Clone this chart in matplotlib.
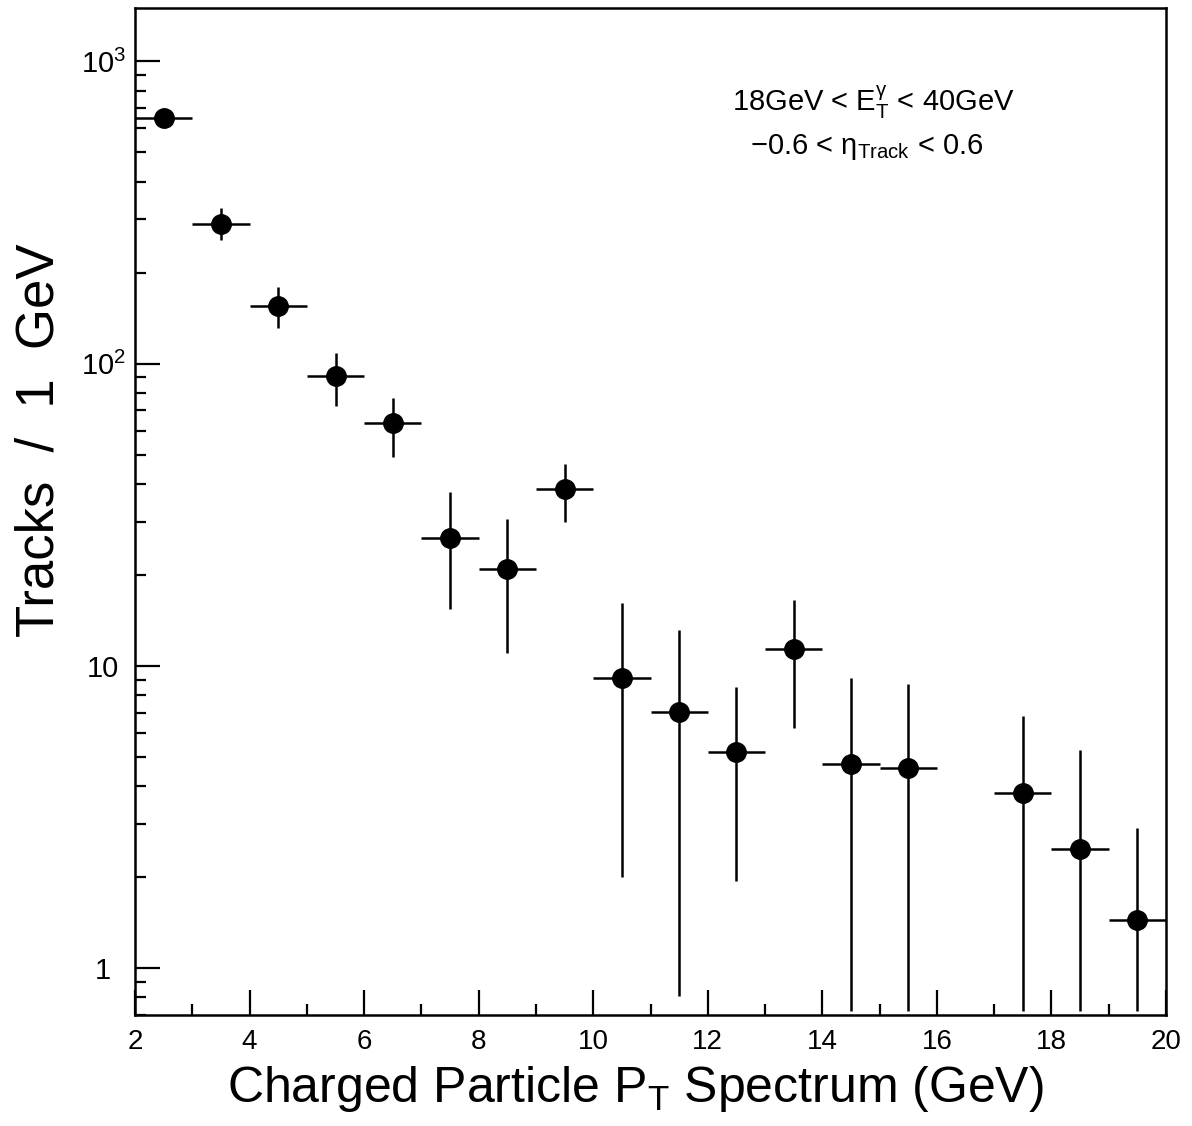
import matplotlib
matplotlib.use('Agg')
import matplotlib.pyplot as plt
from matplotlib.ticker import FixedLocator, FixedFormatter, LogLocator, NullFormatter, MultipleLocator

plt.rcParams['font.family'] = ['Liberation Sans', 'DejaVu Sans']
plt.rcParams['mathtext.fontset'] = 'custom'
plt.rcParams['mathtext.rm'] = 'Liberation Sans'
plt.rcParams['mathtext.it'] = 'Liberation Sans:italic'
plt.rcParams['mathtext.default'] = 'regular'

# pT bin centres (GeV) and track counts per GeV
pt = [2.5, 3.5, 4.5, 5.5, 6.5, 7.5, 8.5, 9.5, 10.5, 11.5,
      12.5, 13.5, 14.5, 15.5, 17.5, 18.5, 19.5]
tracks = [649, 290, 155, 91, 63.7, 26.4, 20.9, 38.6, 9.1, 7.05,
          5.2, 11.4, 4.75, 4.6, 3.8, 2.48, 1.44]
err_up = [660, 328, 179, 108, 76.9, 37.7, 30.5, 46.7, 16.2, 13.1,
          8.5, 16.5, 9.15, 8.7, 6.85, 5.25, 2.9]
err_lo = [638, 257, 131, 72.4, 49.2, 15.4, 11.0, 30.0, 2.0, 0.81,
          1.94, 6.25, 0.72, 0.72, 0.72, 0.72, 0.72]
bin_half = 0.5

yticks = [1, 10, 100, 1000]
ytick_labels = ['1', '10', r'$10^{2}$', r'$10^{3}$']

yerr = [[t - lo for t, lo in zip(tracks, err_lo)],
        [up - t for t, up in zip(tracks, err_up)]]

fig = plt.figure(figsize=(11.92, 11.26), dpi=100)
ax = fig.add_axes([0.1133, 0.0986, 0.8649, 0.8943])

ax.errorbar(pt, tracks, xerr=bin_half, yerr=yerr, fmt='o', color='black',
            markersize=14, elinewidth=1.8, capsize=0)

ax.set_yscale('log')
ax.set_xlim(2, 20)
ax.set_ylim(0.7, 1500)

ax.xaxis.set_major_locator(MultipleLocator(2))
ax.xaxis.set_minor_locator(MultipleLocator(1))
ax.yaxis.set_major_locator(FixedLocator(yticks))
ax.yaxis.set_major_formatter(FixedFormatter(ytick_labels))
ax.yaxis.set_minor_locator(LogLocator(base=10, subs=range(2, 10)))
ax.yaxis.set_minor_formatter(NullFormatter())

ax.tick_params(which='both', direction='in', width=1.6, labelsize=20)
ax.tick_params(axis='y', labelsize=21)
ax.tick_params(which='major', length=18)
ax.tick_params(which='minor', length=8)
ax.tick_params(axis='x', pad=10)
ax.tick_params(axis='y', pad=23)
for lab in ax.get_yticklabels():
    lab.set_horizontalalignment('center')
for s in ax.spines.values():
    s.set_linewidth(1.8)

ax.set_xlabel(r'Charged Particle P$_{T}$ Spectrum (GeV)', fontsize=36)
ax.xaxis.set_label_coords(0.485, -0.049)
ax.set_ylabel('Tracks  /  1  GeV', fontsize=38)
ax.yaxis.set_label_coords(-0.068, 0.571)

ax.text(0.716, 0.906, r'18GeV < E$_{T}^{\gamma}$ < 40GeV', transform=ax.transAxes,
        ha='center', va='center', fontsize=21)
ax.text(0.71, 0.862, r'$-$0.6 < $\eta_{Track}$ < 0.6', transform=ax.transAxes,
        ha='center', va='center', fontsize=21)

fig.savefig('out.png', dpi=100)
